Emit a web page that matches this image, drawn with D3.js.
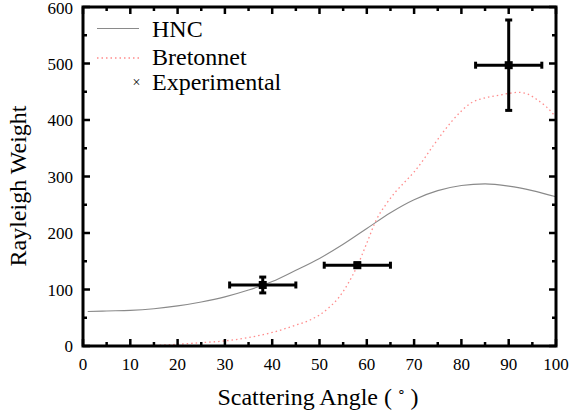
<!DOCTYPE html>
<html>
<head>
<meta charset="utf-8">
<script src="https://cdn.jsdelivr.net/npm/d3@7"></script>
</head>
<body style="margin:0">
<svg id="c" width="571" height="419"></svg>
<script>
// ---- data ----
const hncAngle  = [1, 5, 10, 15, 20, 25, 30, 35, 40, 45, 50, 55, 60, 65, 70, 75, 80, 85, 90, 95, 100];
const hncWeight = [61, 62, 63, 66, 71, 78, 87, 99, 114, 134, 155, 180, 208, 236, 259, 275, 284, 287, 283, 275, 264];

const bretAngle  = [1, 10, 15, 20, 25, 30, 35, 40, 45, 48, 50, 52, 54, 56, 58, 60, 62, 64, 66, 68, 70, 72, 74, 76, 78, 80, 82, 84, 86, 88, 90, 92, 94, 96, 98, 100];
const bretWeight = [0, 0, 1, 3, 6, 9, 15, 24, 37, 46, 55, 68, 85, 110, 142, 182, 223, 250, 272, 290, 308, 330, 354, 377, 398, 416, 430, 437, 441, 444, 447, 449, 446, 436, 423, 405];

const expAngle    = [38, 58, 90];
const expWeight   = [108, 143, 497];
const expAngleErr = [7, 7, 7];
const expWeightErr = [14, 4, 80];

const xTicks = [0, 10, 20, 30, 40, 50, 60, 70, 80, 90, 100];
const yTicks = [0, 100, 200, 300, 400, 500, 600];
const xMinor = [5, 15, 25, 35, 45, 55, 65, 75, 85, 95];
const yMinor = [50, 150, 250, 350, 450, 550];

const legendLabels = ["HNC", "Bretonnet", "Experimental"];

// ---- layout ----
const s = d3.select("#c");
const SERIF = '"Liberation Serif"';
const L = 83, R = 556, T = 7, B = 346;
const x = d3.scaleLinear().domain([0, 100]).range([L, R]);
const y = d3.scaleLinear().domain([0, 600]).range([B, T]);

function label(px, py, size, txt) {
  return s.append("text").attr("x", px).attr("y", py).attr("font-size", size)
    .style("font-family", SERIF).text(txt);
}

// curves
const line = d3.line().x(d => x(d[0])).y(d => y(d[1])).curve(d3.curveMonotoneX);
s.append("path").attr("d", line(d3.zip(hncAngle, hncWeight)))
  .attr("fill", "none").attr("stroke", "#8a8a8a").attr("stroke-width", 1.1);
s.append("path").attr("d", line(d3.zip(bretAngle, bretWeight)))
  .attr("fill", "none").attr("stroke", "#ff8c8c").attr("stroke-width", 1.3)
  .attr("stroke-dasharray", "1.5,3");

// frame
s.append("rect").attr("x", L).attr("y", T).attr("width", R - L).attr("height", B - T)
  .attr("fill", "none").attr("stroke", "#000").attr("stroke-width", 3);

// inward ticks on all sides, built from the axis generators' scales
const major = 7, minor = 4;
function tickSet(vals, len, orient) {
  const g = s.append("g").attr("stroke", "#000").attr("stroke-width", 2.5);
  vals.forEach(v => {
    if (orient === "x") {
      const p = x(v);
      g.append("line").attr("x1", p).attr("x2", p).attr("y1", B).attr("y2", B - len);
      g.append("line").attr("x1", p).attr("x2", p).attr("y1", T).attr("y2", T + len);
    } else {
      const p = y(v);
      g.append("line").attr("y1", p).attr("y2", p).attr("x1", L).attr("x2", L + len);
      g.append("line").attr("y1", p).attr("y2", p).attr("x1", R).attr("x2", R - len);
    }
  });
}
tickSet(xTicks, major, "x");
tickSet(xMinor, minor, "x");
tickSet(yTicks, major, "y");
tickSet(yMinor, minor, "y");

// tick labels
xTicks.forEach(v => {
  label(x(v), 370, 17, String(v)).attr("text-anchor", "middle");
});
yTicks.forEach(v => {
  label(73, Math.max(y(v) + 6, 14), 17, String(v)).attr("text-anchor", "end");
});

// axis titles
const xt = label(318, 405, 24, "Scattering Angle (\u2009").attr("text-anchor", "middle");
xt.append("tspan").attr("font-size", 14).attr("dy", -9).text("\u2218");
xt.append("tspan").attr("dy", 9).text("\u2009)");
label(0, 0, 24, "Rayleigh Weight").attr("text-anchor", "middle")
  .attr("transform", "translate(26,186) rotate(-90)");

// error bars
const eb = s.append("g").attr("stroke", "#000").attr("stroke-width", 3);
const cap = 3.5;
expAngle.forEach((a, i) => {
  const cx = x(a), cy = y(expWeight[i]);
  const x0 = x(a - expAngleErr[i]), x1 = x(a + expAngleErr[i]);
  const y0 = y(expWeight[i] - expWeightErr[i]), y1 = y(expWeight[i] + expWeightErr[i]);
  eb.append("line").attr("x1", x0).attr("x2", x1).attr("y1", cy).attr("y2", cy);
  eb.append("line").attr("x1", x0).attr("x2", x0).attr("y1", cy - cap).attr("y2", cy + cap);
  eb.append("line").attr("x1", x1).attr("x2", x1).attr("y1", cy - cap).attr("y2", cy + cap);
  eb.append("line").attr("x1", cx).attr("x2", cx).attr("y1", y0).attr("y2", y1);
  eb.append("line").attr("x1", cx - cap).attr("x2", cx + cap).attr("y1", y0).attr("y2", y0);
  eb.append("line").attr("x1", cx - cap).attr("x2", cx + cap).attr("y1", y1).attr("y2", y1);
  s.append("rect").attr("x", cx - 4).attr("y", cy - 4).attr("width", 8).attr("height", 8).attr("fill", "#000");
});

// legend
s.append("line").attr("x1", 97).attr("x2", 139).attr("y1", 28.5).attr("y2", 28.5)
  .attr("stroke", "#8a8a8a").attr("stroke-width", 1.1);
s.append("line").attr("x1", 97).attr("x2", 139).attr("y1", 58).attr("y2", 58)
  .attr("stroke", "#ff8c8c").attr("stroke-width", 1.3).attr("stroke-dasharray", "1.5,3");
label(136.5, 87, 14, "×").attr("text-anchor", "middle");
const ly = [37, 65, 90];
legendLabels.forEach((t, i) => label(152, ly[i], 24, t));
</script>
</body>
</html>
